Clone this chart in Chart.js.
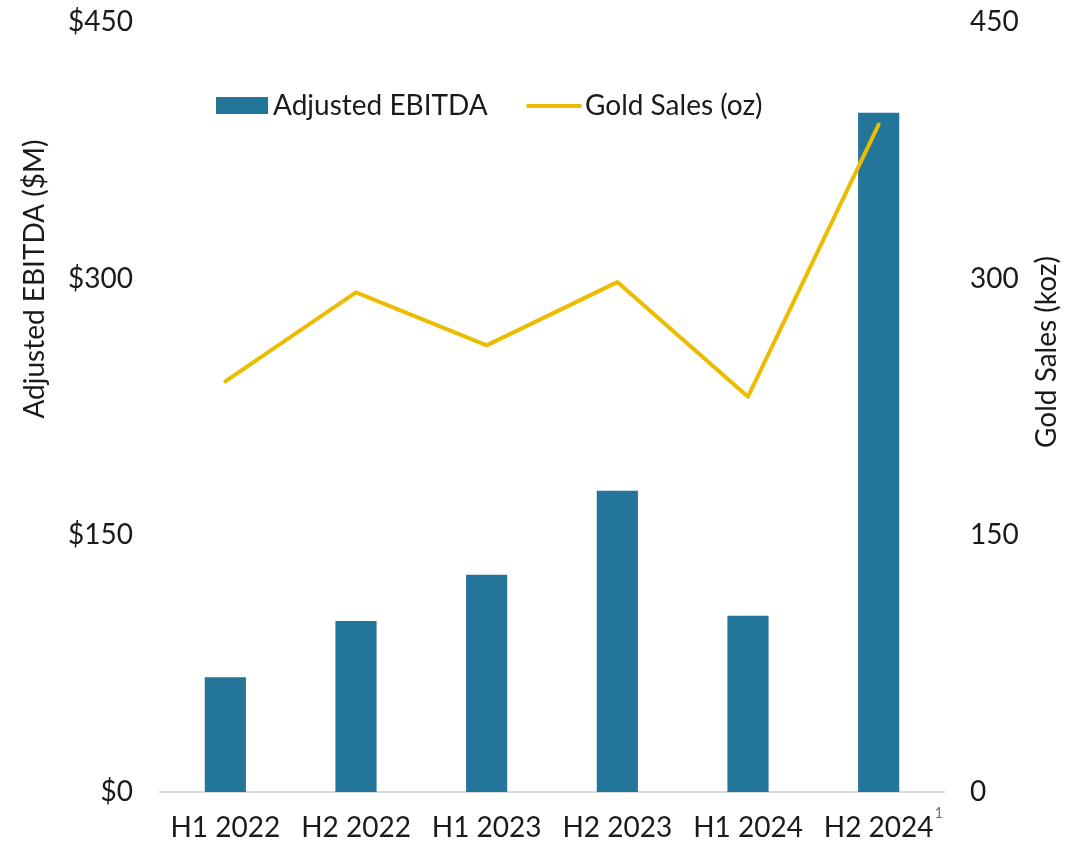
<!DOCTYPE html>
<html><head><meta charset="utf-8">
<script src="https://cdn.jsdelivr.net/npm/chart.js@4"></script>
<style>html,body{margin:0;padding:0;background:#fff}#wrap{width:1082px;height:842px;position:relative}</style>
</head><body><div id="wrap"><canvas id="c" width="1082" height="842"></canvas></div>
<script>
const categories = ['H1 2022','H2 2022','H1 2023','H2 2023','H1 2024','H2 2024'];
const ebitda = [67, 100, 127, 176, 103, 397];
const goldSales = [240, 292, 261, 298, 231, 390];
const leftTitle = 'Adjusted EBITDA ($M)';
const rightTitle = 'Gold Sales (koz)';
const seriesNames = ['Adjusted EBITDA', 'Gold Sales (oz)'];
const footnote = '1';

const FONT = 'Lato, "Open Sans", sans-serif';
const FS = 28;
const TXT = '#1a1a1a';
const BAR = '#23759A';
const LINE = '#EBBC00';

const deco = {
  id: 'deco',
  afterDraw(chart) {
    const ctx = chart.ctx;
    ctx.save();
    ctx.fillStyle = TXT;
    ctx.font = FS + 'px ' + FONT;
    // axis titles
    ctx.save();
    ctx.translate(35, 279);
    ctx.rotate(-Math.PI/2);
    ctx.textAlign = 'center'; ctx.textBaseline = 'middle';
    ctx.fillText(leftTitle, 0, 0);
    ctx.restore();
    ctx.save();
    ctx.translate(1047, 352);
    ctx.rotate(-Math.PI/2);
    ctx.textAlign = 'center'; ctx.textBaseline = 'middle';
    ctx.fillText(rightTitle, 0, 0);
    ctx.restore();
    // legend
    ctx.textAlign = 'left'; ctx.textBaseline = 'middle';
    const y = 106;
    ctx.fillStyle = BAR;
    ctx.fillRect(216, 97, 52, 17);
    ctx.fillStyle = TXT;
    ctx.fillText(seriesNames[0], 273, y);
    ctx.strokeStyle = LINE; ctx.lineWidth = 4; ctx.lineCap = 'round';
    ctx.beginPath(); ctx.moveTo(528, y); ctx.lineTo(580, y); ctx.stroke();
    ctx.fillText(seriesNames[1], 585, y);
    // footnote
    const xs = chart.scales.x;
    const px = xs.getPixelForValue(categories.length - 1);
    ctx.font = FS + 'px ' + FONT;
    const w = ctx.measureText(categories[categories.length - 1]).width;
    ctx.font = '15px ' + FONT;
    ctx.fillStyle = '#5b7894';
    ctx.textAlign = 'left'; ctx.textBaseline = 'middle';
    ctx.fillText(footnote, px + w/2 + 1, 813);
    ctx.restore();
  }
};

function fixV(w) {
  return s => { s.width = w; s.paddingTop = 0; s.paddingBottom = 0; };
}

new Chart(document.getElementById('c'), {
  data: {
    labels: categories,
    datasets: [
      { type: 'line', label: seriesNames[1], data: goldSales, yAxisID: 'y2',
        borderColor: LINE, borderWidth: 4, borderCapStyle: 'round', borderJoinStyle: 'round',
        pointRadius: 0, tension: 0, order: 0 },
      { type: 'bar', label: seriesNames[0], data: ebitda, yAxisID: 'y',
        backgroundColor: BAR, barPercentage: 0.315, categoryPercentage: 1, order: 1 }
    ]
  },
  options: {
    responsive: false, animation: false, devicePixelRatio: 1,
    layout: { padding: { top: 22, left: 0, right: 0, bottom: 0 } },
    plugins: { legend: { display: false }, tooltip: { enabled: false } },
    scales: {
      x: {
        grid: { display: false, drawTicks: false },
        border: { display: true, color: '#d9d9d9', width: 2 },
        ticks: { color: TXT, font: { family: FONT, size: FS }, padding: 19, maxRotation: 0 },
        afterFit: s => { s.height = 50; s.paddingLeft = 0; s.paddingRight = 0; }
      },
      y: {
        position: 'left', min: 0, max: 450,
        grid: { display: false, drawTicks: false },
        border: { display: false },
        ticks: { stepSize: 150, color: TXT, font: { family: FONT, size: FS }, padding: 27,
                 callback: v => '$' + v },
        afterFit: fixV(160)
      },
      y2: {
        position: 'right', min: 0, max: 450,
        grid: { display: false, drawTicks: false },
        border: { display: false },
        ticks: { stepSize: 150, color: TXT, font: { family: FONT, size: FS }, padding: 26 },
        afterFit: fixV(138)
      }
    }
  },
  plugins: [deco]
});
</script></body></html>
